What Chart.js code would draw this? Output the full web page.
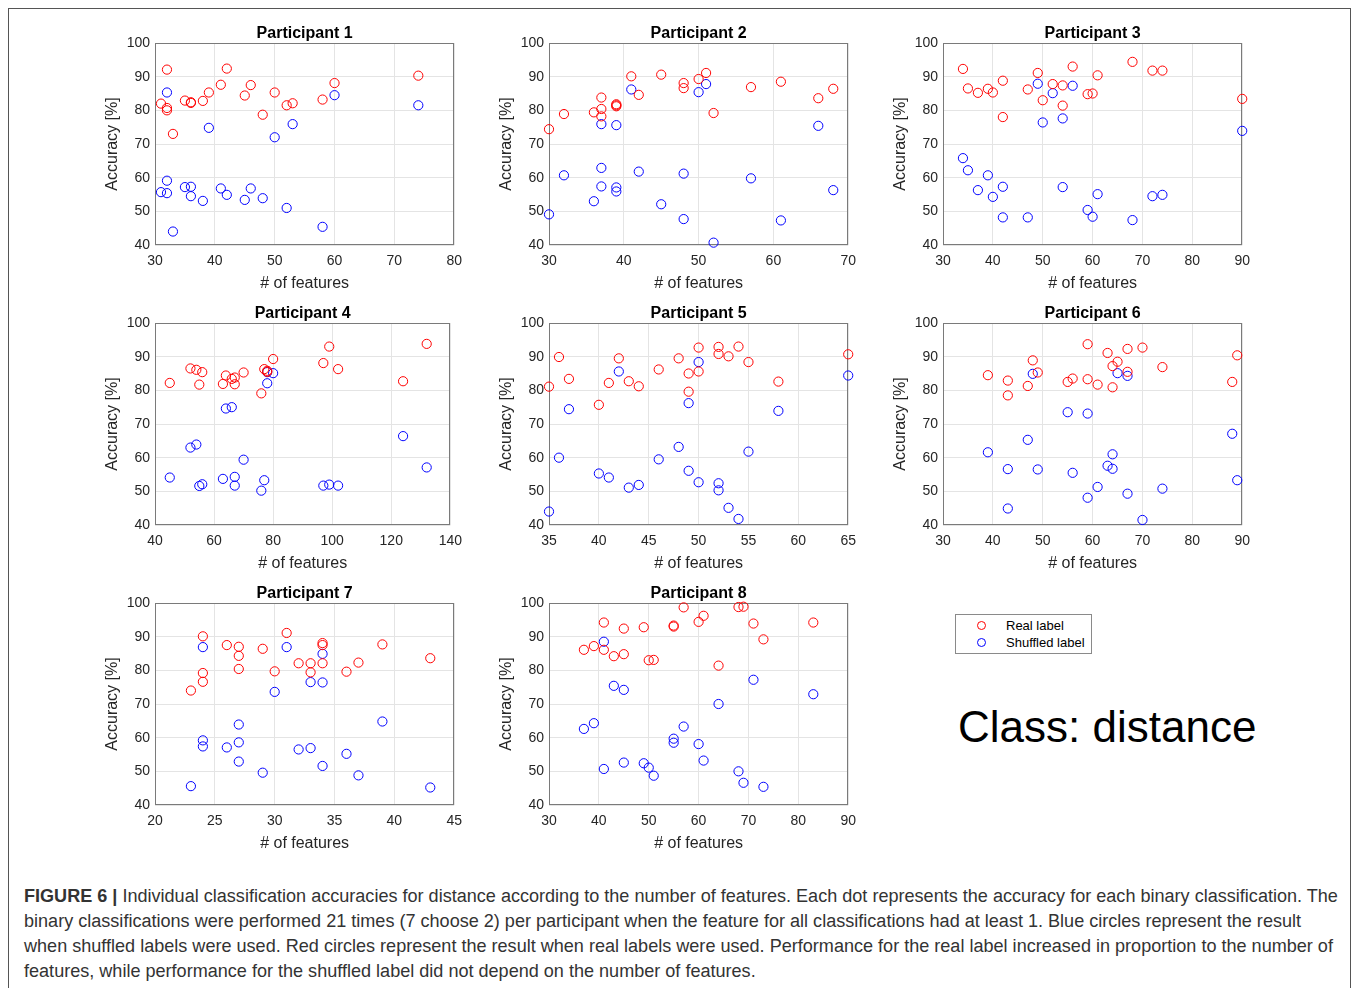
<!DOCTYPE html>
<html>
<head>
<meta charset="utf-8">
<script src="https://cdn.jsdelivr.net/npm/chart.js@4.4.1/dist/chart.umd.min.js"></script>
<style>
  html, body { margin: 0; padding: 0; background: #fff; }
  body { width: 1358px; height: 988px; overflow: hidden; position: relative; font-family: "Liberation Sans", Arial, Helvetica, sans-serif; }
  .frame { position: absolute; left: 8px; top: 8px; width: 1343px; height: 1000px; border: 1px solid #555; box-sizing: border-box; }
  .panel { position: absolute; }
  .legend { position: absolute; left: 955px; top: 614px; width: 137px; height: 40px; border: 1px solid #8a8a8a; box-sizing: border-box; background: #fff; font-size: 13px; color: #000; }
  .legend .row { position: absolute; left: 0; height: 16px; line-height: 16px; white-space: nowrap; }
  .legend .sym { position: absolute; left: 21px; top: 3px; width: 9px; height: 9px; border-radius: 50%; box-sizing: border-box; border: 1px solid; }
  .legend .txt { position: absolute; left: 50px; top: 0; }
  .classlabel { position: absolute; left: 958px; top: 705px; font-size: 44px; line-height: 44px; color: #000; white-space: nowrap; }
  .caption { position: absolute; left: 24px; top: 884px; font-size: 18.07px; line-height: 25px; color: #333; white-space: nowrap; }
  .caption b { color: #333; }
</style>
</head>
<body>
<div class="frame"></div>

<script>
// ---------------- DATA ----------------
const participantNames = ["Participant 1","Participant 2","Participant 3","Participant 4","Participant 5","Participant 6","Participant 7","Participant 8"];
const seriesLabels = ["Real label", "Shuffled label"];

const p1Features = [31,32,32,32,33,35,36,36,38,39,41,42,45,46,48,50,52,53,58,60,74];
const p1Real     = [82.0,92.1,80.7,80.0,73.0,82.9,82.4,82.2,82.8,85.3,87.6,92.4,84.4,87.5,78.7,85.3,81.5,82.1,83.2,88.1,90.3];
const p1Shuffled = [55.7,85.3,59.1,55.4,44.0,57.2,57.3,54.5,53.1,74.8,56.8,54.9,53.4,56.8,53.9,72.0,51.0,75.9,45.4,84.5,81.5];

const p2Features = [30,32,36,37,37,37,39,39,39,41,42,45,48,48,50,51,52,57,61,66,68];
const p2Real     = [74.4,78.9,79.4,83.8,80.4,78.2,81.8,81.5,81.2,90.1,84.6,90.6,88.1,86.6,89.3,91.1,79.2,86.9,88.5,83.6,86.4];
const p2Shuffled = [49.1,60.7,53.0,75.9,62.9,57.4,75.6,57.1,55.9,86.2,61.8,52.1,61.2,47.7,85.4,87.8,40.7,59.8,47.3,75.4,56.3];

const p3Features = [34,35,37,39,40,42,42,47,49,50,52,54,54,56,59,60,61,68,72,74,90];
const p3Real     = [92.3,86.5,85.2,86.4,85.3,88.8,78.0,86.2,91.1,83.0,87.8,87.4,81.4,93.0,84.8,85.0,90.4,94.4,91.8,91.8,83.4];
const p3Shuffled = [65.8,62.2,56.3,60.7,54.3,57.3,48.2,48.2,87.9,76.4,85.1,77.6,57.2,87.3,50.4,48.4,55.1,47.4,54.5,54.9,73.9];

const p4Features = [45,52,54,55,56,63,64,66,67,67,70,76,77,78,78,80,97,99,102,124,132];
const p4Real     = [82.2,86.5,86.1,81.7,85.4,81.9,84.4,83.4,83.8,81.8,85.3,79.1,86.3,85.8,85.5,89.3,88.1,93.0,86.3,82.7,93.8];
const p4Shuffled = [54.1,63.0,63.9,51.6,52.1,53.7,74.6,75.0,54.3,51.7,59.4,50.2,53.3,85.4,82.1,85.1,51.7,52.0,51.7,66.4,57.1];

const p5Features = [35,36,37,40,41,42,43,44,46,48,49,49,50,50,52,52,53,54,55,58,65];
const p5Real     = [81.1,89.9,83.4,75.7,82.2,89.5,82.7,81.2,86.2,89.5,85.0,79.6,92.7,85.6,92.9,90.8,90.1,93.0,88.4,82.6,90.7];
const p5Shuffled = [44.0,60.0,74.4,55.3,54.1,85.6,51.1,51.9,59.5,63.2,76.2,56.1,88.4,52.7,52.4,50.3,45.1,41.8,61.8,73.9,84.4];

const p6Features = [39,43,43,47,48,49,55,56,59,59,61,63,64,64,65,67,67,70,74,88,89];
const p6Real     = [84.5,82.9,78.5,81.3,88.9,85.3,82.5,83.5,93.7,83.3,81.7,91.1,87.2,80.9,88.5,92.3,85.5,92.7,86.9,82.5,90.4];
const p6Shuffled = [61.6,56.6,44.9,65.3,84.9,56.5,73.5,55.5,73.1,48.1,51.3,57.6,61.0,56.7,85.1,84.3,49.3,41.5,50.8,67.1,53.3];

const p7Features = [23,24,24,24,26,27,27,27,29,30,31,32,33,33,34,34,34,36,37,39,43];
const p7Real     = [74.0,90.1,79.2,76.6,87.5,87.0,84.3,80.4,86.4,79.7,91.1,82.1,82.1,79.4,88.1,87.5,82.1,79.6,82.3,87.7,83.6];
const p7Shuffled = [45.6,86.9,59.2,57.4,57.1,63.9,58.6,52.9,49.6,73.6,86.9,56.5,56.9,76.5,84.9,76.4,51.6,55.2,48.8,64.8,45.2];

const p8Features = [37,39,41,41,43,45,45,49,50,51,55,55,57,60,61,64,68,69,71,73,83];
const p8Real     = [86.1,87.2,94.2,86.1,84.2,92.4,84.8,92.8,83.0,83.1,93.3,93.0,98.7,94.4,96.2,81.4,98.8,98.9,93.9,89.2,94.2];
const p8Shuffled = [62.6,64.3,88.5,50.7,75.4,74.2,52.6,52.4,51.1,48.7,59.7,58.5,63.3,58.1,53.2,70.0,50.0,46.6,77.2,45.4,72.9];

// axis tick settings
const xMins  = [30, 30, 30, 40, 35, 30, 20, 30];
const xMaxs  = [80, 70, 90, 140, 65, 90, 45, 90];
const xSteps = [10, 10, 10, 20, 5, 10, 5, 10];
const yMin = 40, yMax = 100, yStep = 10;
const xTitle = "# of features";
const yTitle = "Accuracy [%]";

// ---------------- LAYOUT ----------------
const FONT = '"Liberation Sans", Arial, Helvetica, sans-serif';
const plotLefts = [155, 549, 943];
const plotTops = [43, 323, 603];
const PW = 300, PH = 202;
const LEFT_W = 52, TOP_H = 21, BOTTOM_H = 49, RIGHT_PAD = 15;

const features = [p1Features,p2Features,p3Features,p4Features,p5Features,p6Features,p7Features,p8Features];
const reals    = [p1Real,p2Real,p3Real,p4Real,p5Real,p6Real,p7Real,p8Real];
const shuffs   = [p1Shuffled,p2Shuffled,p3Shuffled,p4Shuffled,p5Shuffled,p6Shuffled,p7Shuffled,p8Shuffled];

const boxPlugin = {
  id: 'boxPlugin',
  beforeDatasetsDraw(chart) {
    const a = chart.chartArea, ctx = chart.ctx;
    ctx.save();
    ctx.strokeStyle = '#7a7a7a';
    ctx.lineWidth = 1;
    ctx.strokeRect(Math.round(a.left) + 0.5, Math.round(a.top) + 0.5, Math.round(a.right - a.left) - 1, Math.round(a.bottom - a.top) - 1);
    ctx.restore();
  }
};

for (let i = 0; i < 8; i++) {
  const col = i % 3, row = Math.floor(i / 3);
  const div = document.createElement('div');
  div.className = 'panel';
  let W = LEFT_W + PW + RIGHT_PAD, H = TOP_H + PH + BOTTOM_H;
  div.style.left = (plotLefts[col] - LEFT_W) + 'px';
  div.style.top = (plotTops[row] - TOP_H) + 'px';
  div.style.width = W + 'px';
  div.style.height = H + 'px';
  const cv = document.createElement('canvas');
  cv.width = W; cv.height = H;
  cv.style.width = W + 'px'; cv.style.height = H + 'px';
  div.appendChild(cv);
  document.body.appendChild(div);

  const mk = (ys) => features[i].map((x, k) => ({ x: x, y: ys[k] }));
  const chart = new Chart(cv.getContext('2d'), {
    type: 'scatter',
    data: {
      datasets: [
        { label: seriesLabels[0], data: mk(reals[i]), borderColor: '#ff0000', backgroundColor: 'rgba(0,0,0,0)',
          pointRadius: 4.6, pointHoverRadius: 4.6, pointBorderWidth: 1, clip: false },
        { label: seriesLabels[1], data: mk(shuffs[i]), borderColor: '#0000ff', backgroundColor: 'rgba(0,0,0,0)',
          pointRadius: 4.6, pointHoverRadius: 4.6, pointBorderWidth: 1, clip: false }
      ]
    },
    options: {
      responsive: false,
      animation: false,
      events: [],
      layout: { padding: { left: 0, right: RIGHT_PAD, top: 0, bottom: 0 } },
      plugins: {
        legend: { display: false },
        tooltip: { enabled: false },
        title: {
          display: true, text: participantNames[i], fullSize: false, color: '#000',
          font: { family: FONT, size: 16, weight: 'bold', lineHeight: 1.125 },
          padding: { top: 3, bottom: 0 }
        }
      },
      scales: {
        x: {
          type: 'linear', min: xMins[i], max: xMaxs[i],
          ticks: { stepSize: xSteps[i], color: '#262626', font: { family: FONT, size: 14 }, padding: 8, autoSkip: false, maxRotation: 0 },
          grid: { color: '#e4e4e4', drawTicks: false, lineWidth: 1 },
          border: { display: false },
          title: { display: true, text: xTitle, color: '#262626', font: { family: FONT, size: 16, lineHeight: 1.25 }, padding: 0 },
          afterFit: (s) => { s.height = BOTTOM_H; }
        },
        y: {
          type: 'linear', min: yMin, max: yMax,
          ticks: { stepSize: yStep, color: '#262626', font: { family: FONT, size: 14 }, padding: 5, autoSkip: false },
          grid: { color: '#e4e4e4', drawTicks: false, lineWidth: 1 },
          border: { display: false },
          title: { display: true, text: yTitle, color: '#262626', font: { family: FONT, size: 16, lineHeight: 1.25 }, padding: 0 },
          afterFit: (s) => { s.width = LEFT_W; }
        }
      }
    },
    plugins: [boxPlugin]
  });

  // make the plotting area land exactly on the intended box
  for (let it = 0; it < 3; it++) {
    const a = chart.chartArea;
    const dw = PW - (a.right - a.left), dh = PH - (a.bottom - a.top);
    if (Math.abs(dw) < 0.01 && Math.abs(dh) < 0.01) break;
    W = Math.round(W + dw); H = Math.round(H + dh);
    div.style.width = W + 'px'; div.style.height = H + 'px';
    cv.style.width = W + 'px'; cv.style.height = H + 'px';
    chart.resize(W, H);
  }
  const a = chart.chartArea;
  div.style.left = (plotLefts[col] - a.left) + 'px';
  div.style.top = (plotTops[row] - a.top) + 'px';
}
</script>

<div class="legend">
  <div class="row" style="top:3px;width:100%"><span class="sym" style="border-color:#ff0000"></span><span class="txt">Real label</span></div>
  <div class="row" style="top:20px;width:100%"><span class="sym" style="border-color:#0000ff"></span><span class="txt">Shuffled label</span></div>
</div>

<div class="classlabel">Class: distance</div>

<div class="caption"><b>FIGURE 6 |</b> Individual classification accuracies for distance according to the number of features. Each dot represents the accuracy for each binary classification. The<br>binary classifications were performed 21 times (7 choose 2) per participant when the feature for all classifications had at least 1. Blue circles represent the result<br>when shuffled labels were used. Red circles represent the result when real labels were used. Performance for the real label increased in proportion to the number of<br>features, while performance for the shuffled label did not depend on the number of features.</div>
</body>
</html>
